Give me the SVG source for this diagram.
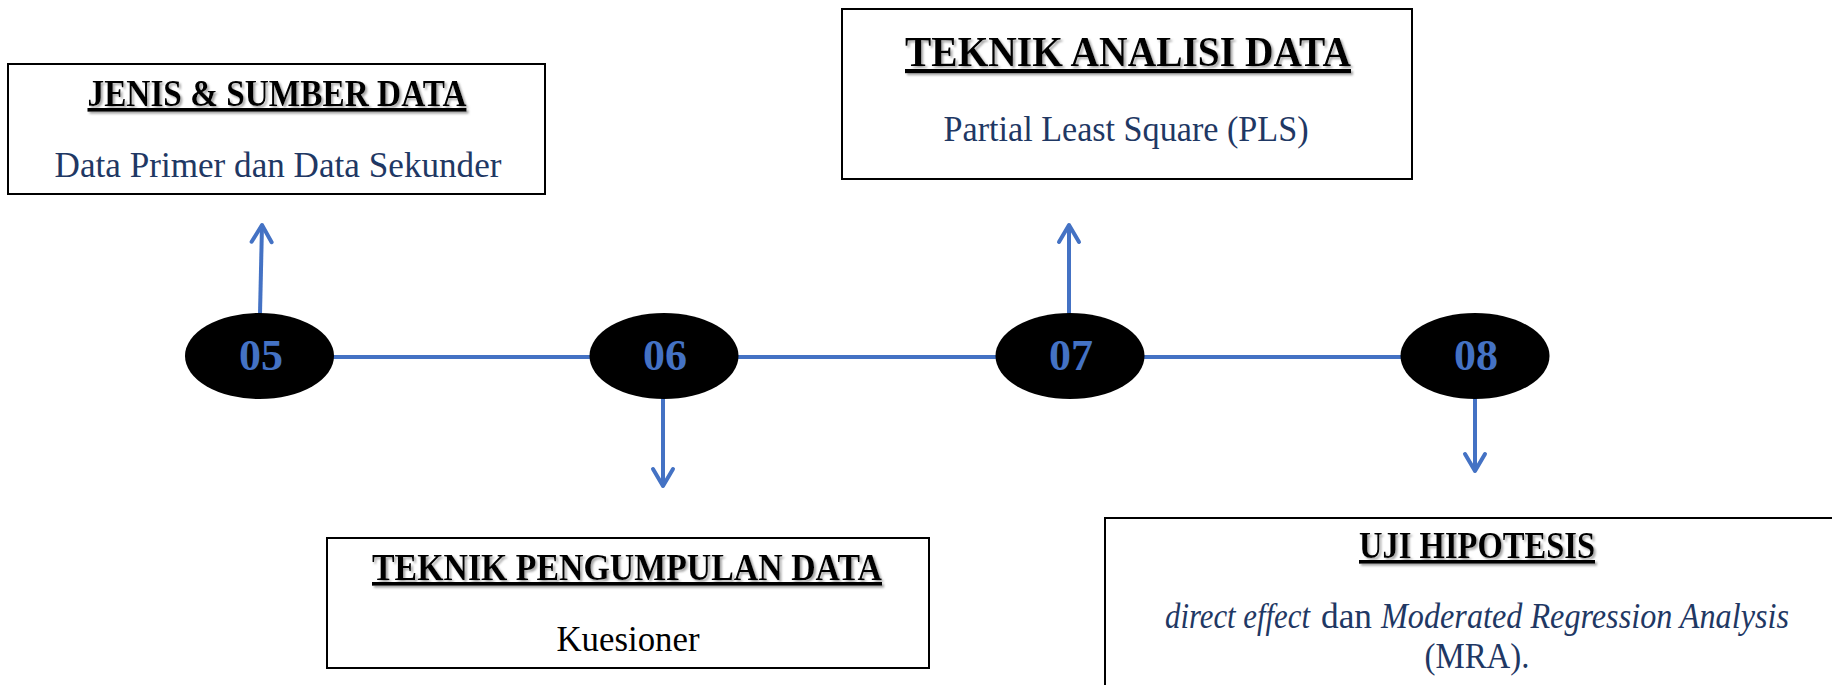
<svg xmlns="http://www.w3.org/2000/svg" width="1832" height="685" viewBox="0 0 1832 685">
  <defs>
    <filter id="shadow" x="-5%" y="-30%" width="110%" height="160%">
      <feDropShadow dx="2" dy="2" stdDeviation="1" flood-color="#7f7f7f" flood-opacity="0.7"/>
    </filter>
    <marker id="arrow" markerUnits="userSpaceOnUse" markerWidth="40" markerHeight="40" viewBox="-25 -20 40 40" refX="0" refY="0" orient="auto">
      <path d="M-17,-10 L0,0 L-17,10" fill="none" stroke="#4472C4" stroke-width="4" stroke-linecap="round" stroke-linejoin="round"/>
    </marker>
  </defs>
  <style>
    .box { fill: #ffffff; stroke: #000000; stroke-width: 2; }
    .title { font-family: "Liberation Serif", "Times New Roman", serif; font-weight: bold; fill: #000000; text-anchor: middle; text-decoration: underline; filter: url(#shadow); }
    .sub { font-family: "Liberation Serif", "Times New Roman", serif; font-size: 35px; fill: #1F3864; text-anchor: middle; }
    .seg { font-family: "Liberation Serif", "Times New Roman", serif; font-size: 35px; fill: #1F3864; text-anchor: start; }
    .it { font-style: italic; }
    .num { font-family: "Liberation Serif", "Times New Roman", serif; font-weight: bold; font-size: 44px; fill: #4472C4; text-anchor: middle; }
    .node { fill: #000000; }
    .conn { stroke: #4472C4; stroke-width: 4; fill: none; }
    .arr { stroke: #4472C4; stroke-width: 4; fill: none; marker-end: url(#arrow); }
  </style>
  <rect width="1832" height="685" fill="#ffffff"/>

  <g id="connectors">
    <line class="conn" x1="333" y1="357" x2="590" y2="357"/>
    <line class="conn" x1="737" y1="357" x2="996" y2="357"/>
    <line class="conn" x1="1143" y1="357" x2="1401" y2="357"/>
    <line class="arr" x1="260" y1="314" x2="262" y2="225"/>
    <line class="arr" x1="663" y1="398" x2="663" y2="486"/>
    <line class="arr" x1="1069" y1="314" x2="1069" y2="225"/>
    <line class="arr" x1="1475" y1="398" x2="1475" y2="471"/>
  </g>

  <g id="node-05">
    <ellipse class="node" cx="259.5" cy="356" rx="74.5" ry="43"/>
    <text class="num" x="261" y="370">05</text>
  </g>
  <g id="node-06">
    <ellipse class="node" cx="664" cy="356" rx="74.5" ry="43"/>
    <text class="num" x="665" y="370">06</text>
  </g>
  <g id="node-07">
    <ellipse class="node" cx="1070" cy="356" rx="74.5" ry="43"/>
    <text class="num" x="1071" y="370">07</text>
  </g>
  <g id="node-08">
    <ellipse class="node" cx="1475" cy="356" rx="74.5" ry="43"/>
    <text class="num" x="1476" y="370">08</text>
  </g>

  <g id="box-jenis">
    <rect class="box" x="8" y="64" width="537" height="130"/>
    <text class="title" x="277" y="106" font-size="37" textLength="379" lengthAdjust="spacingAndGlyphs">JENIS &amp; SUMBER DATA</text>
    <text class="sub" x="278" y="177" textLength="447" lengthAdjust="spacingAndGlyphs">Data Primer dan Data Sekunder</text>
  </g>

  <g id="box-analisis">
    <rect class="box" x="842" y="9" width="570" height="170"/>
    <text class="title" x="1128" y="66" font-size="42" textLength="446" lengthAdjust="spacingAndGlyphs">TEKNIK ANALISI DATA</text>
    <text class="sub" x="1126" y="141" textLength="365" lengthAdjust="spacingAndGlyphs">Partial Least Square (PLS)</text>
  </g>

  <g id="box-pengumpulan">
    <rect class="box" x="327" y="538" width="602" height="130"/>
    <text class="title" x="627" y="580" font-size="37" textLength="510" lengthAdjust="spacingAndGlyphs">TEKNIK PENGUMPULAN DATA</text>
    <text class="sub" x="628" y="651" style="fill:#000000" textLength="143" lengthAdjust="spacingAndGlyphs">Kuesioner</text>
  </g>

  <g id="box-uji">
    <rect class="box" x="1105" y="518" width="740" height="180"/>
    <text class="title" x="1477" y="558" font-size="37" textLength="236" lengthAdjust="spacingAndGlyphs">UJI HIPOTESIS</text>
    <text class="seg it" x="1165" y="628" textLength="145" lengthAdjust="spacingAndGlyphs">direct effect</text>
    <text class="seg" x="1321" y="628" textLength="51" lengthAdjust="spacingAndGlyphs">dan</text>
    <text class="seg it" x="1381" y="628" textLength="408" lengthAdjust="spacingAndGlyphs">Moderated Regression Analysis</text>
    <text class="sub" x="1477" y="668" textLength="105" lengthAdjust="spacingAndGlyphs">(MRA).</text>
  </g>
</svg>
